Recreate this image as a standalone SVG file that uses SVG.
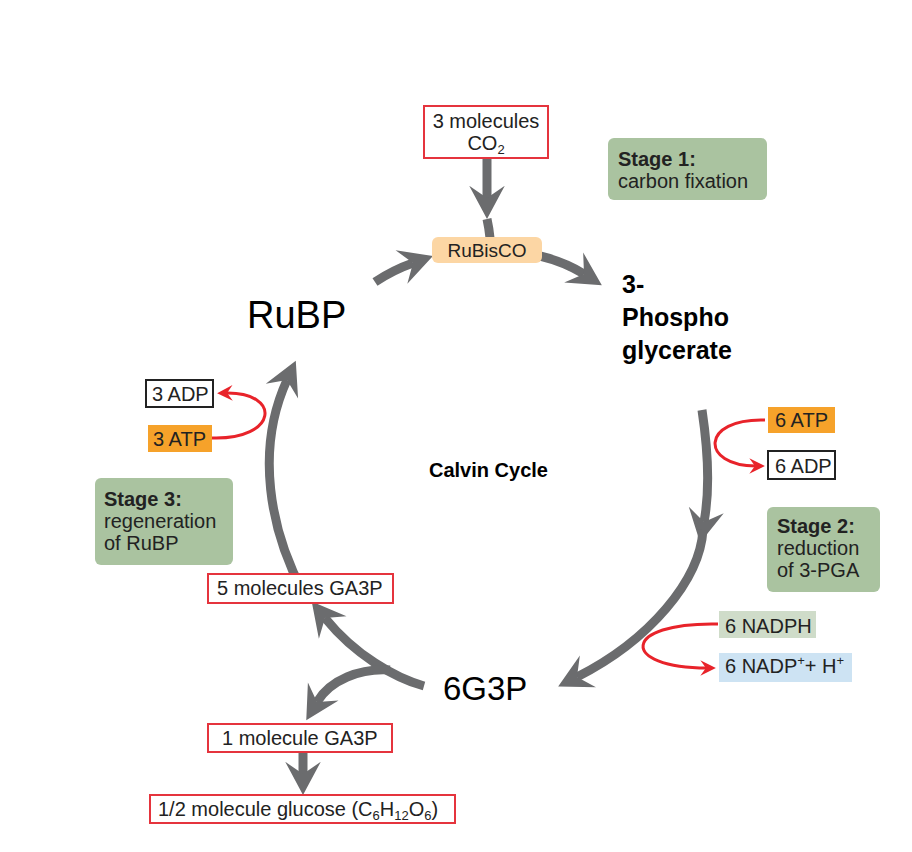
<svg xmlns="http://www.w3.org/2000/svg" width="912" height="852" viewBox="0 0 912 852">
<style>
text{font-family:"Liberation Sans",Arial,sans-serif;fill:#222;}
.t{font-size:20px;}
.b{font-weight:bold;}
.redbox{fill:#fff;stroke:#e5343d;stroke-width:2;}
.blkbox{fill:#fff;stroke:#222;stroke-width:2;}
.orange{fill:#f6a22a;}
.stage{fill:#aac3a0;}
.g{fill:none;stroke:#6b6c6e;stroke-width:9;}
.r{fill:none;stroke:#e8232a;stroke-width:3;}
.big{font-size:38px;fill:#000;}
.sub{font-size:13px;}
</style>
<defs>
<marker id="ah" markerUnits="userSpaceOnUse" markerWidth="40" markerHeight="40" viewBox="-32 -18 36 36" refX="-19" refY="0" orient="auto">
<path d="M0,0 L-30,-16 L-19,0 L-30,16 Z" fill="#6b6c6e"/>
</marker>
<marker id="rh" markerUnits="userSpaceOnUse" markerWidth="20" markerHeight="20" viewBox="-16 -9 18 18" refX="-8" refY="0" orient="auto">
<path d="M0,0 L-14,-7 L-9,0 L-14,7 Z" fill="#e8232a"/>
</marker>
</defs>
<rect width="912" height="852" fill="#fff"/>
<g id="connectors">
<path class="g" d="M487,157 L487,198" marker-end="url(#ah)"/>
<path class="g" d="M487,219 Q489,228 490,238"/>
<path class="g" d="M375,282 Q393,270 413,263" marker-end="url(#ah)"/>
<path class="g" d="M540,256 Q565,262 584,274" marker-end="url(#ah)"/>
<path class="g" d="M702,410 C708,450 710,490 704,522" marker-end="url(#ah)"/>
<path class="g" d="M703,530 C700,580 650,640 577,677" marker-end="url(#ah)"/>
<path class="g" d="M303,592 C270,530 255,450 287,380" marker-end="url(#ah)"/>
<path class="g" d="M424,686 C395,678 355,655 325,618" marker-end="url(#ah)"/>
<path class="g" d="M390,670 C360,668 330,680 317,702" marker-end="url(#ah)"/>
<path class="g" d="M303,752 L303,774" marker-end="url(#ah)"/>
<path class="r" d="M212,438 C278,440 282,392 226,393" marker-end="url(#rh)"/>
<path class="r" d="M765,420 C700,418 700,466 756,466" marker-end="url(#rh)"/>
<path class="r" d="M718,624 C620,622 620,668 707,668" marker-end="url(#rh)"/>
</g>
<g id="co2">
<rect class="redbox" x="424" y="106" width="124" height="52"/>
<text class="t" x="486" y="128" text-anchor="middle">3 molecules</text>
<text class="t" x="486" y="150" text-anchor="middle">CO<tspan class="sub" dy="4">2</tspan></text>
</g>
<g id="rubisco">
<rect x="432" y="237" width="110" height="26" rx="6" fill="#fcd6a4"/>
<text x="487" y="257" text-anchor="middle" style="font-size:19px">RuBisCO</text>
</g>
<g id="stage1">
<rect class="stage" x="608" y="138" width="159" height="62" rx="6"/>
<text class="t b" x="618" y="166">Stage 1:</text>
<text class="t" x="618" y="188">carbon fixation</text>
</g>
<g id="rubp">
<text class="big" x="247" y="328">RuBP</text>
</g>
<g id="pga">
<text class="b" x="622" y="293" style="font-size:25px;fill:#000">3-</text>
<text class="b" x="622" y="326" style="font-size:25px;fill:#000">Phospho</text>
<text class="b" x="622" y="359" style="font-size:25px;fill:#000">glycerate</text>
</g>
<g id="atp6">
<rect class="orange" x="768" y="407" width="67" height="26"/>
<text class="t" x="775" y="427">6 ATP</text>
</g>
<g id="adp6">
<rect class="blkbox" x="768" y="451" width="67" height="28"/>
<text class="t" x="775" y="473">6 ADP</text>
</g>
<g id="stage2">
<rect class="stage" x="767" y="507" width="113" height="85" rx="6"/>
<text class="t b" x="777" y="533">Stage 2:</text>
<text class="t" x="777" y="555">reduction</text>
<text class="t" x="777" y="577">of 3-PGA</text>
</g>
<g id="nadph">
<rect x="719" y="611" width="97" height="27" fill="#cfdcc9"/>
<text class="t" x="725" y="633">6 NADPH</text>
</g>
<g id="nadp">
<rect x="719" y="653" width="133" height="29" fill="#cde3f3"/>
<text class="t" x="725" y="673">6 NADP<tspan class="sub" dy="-8">+</tspan><tspan dy="8">+ H</tspan><tspan class="sub" dy="-8">+</tspan></text>
</g>
<g id="calvin">
<text class="t b" x="429" y="477" style="fill:#000">Calvin Cycle</text>
</g>
<g id="adp3">
<rect class="blkbox" x="146" y="380" width="67" height="27"/>
<text class="t" x="152" y="401">3 ADP</text>
</g>
<g id="atp3">
<rect class="orange" x="148" y="425" width="64" height="27"/>
<text class="t" x="153" y="446">3 ATP</text>
</g>
<g id="stage3">
<rect class="stage" x="95" y="478" width="138" height="87" rx="6"/>
<text class="t b" x="104" y="506">Stage 3:</text>
<text class="t" x="104" y="528">regeneration</text>
<text class="t" x="104" y="550">of RuBP</text>
</g>
<g id="ga3p5">
<rect class="redbox" x="208" y="574" width="185" height="29"/>
<text class="t" x="217" y="595">5 molecules GA3P</text>
</g>
<g id="g3p6">
<text x="443" y="700" style="font-size:33px;fill:#000">6G3P</text>
</g>
<g id="ga3p1">
<rect class="redbox" x="208" y="724" width="184" height="28"/>
<text class="t" x="222" y="745">1 molecule GA3P</text>
</g>
<g id="glucose">
<rect class="redbox" x="150" y="795" width="305" height="28"/>
<text class="t" x="158" y="816">1/2 molecule glucose (C<tspan class="sub" dy="4">6</tspan><tspan dy="-4">H</tspan><tspan class="sub" dy="4">12</tspan><tspan dy="-4">O</tspan><tspan class="sub" dy="4">6</tspan><tspan dy="-4">)</tspan></text>
</g>
</svg>
